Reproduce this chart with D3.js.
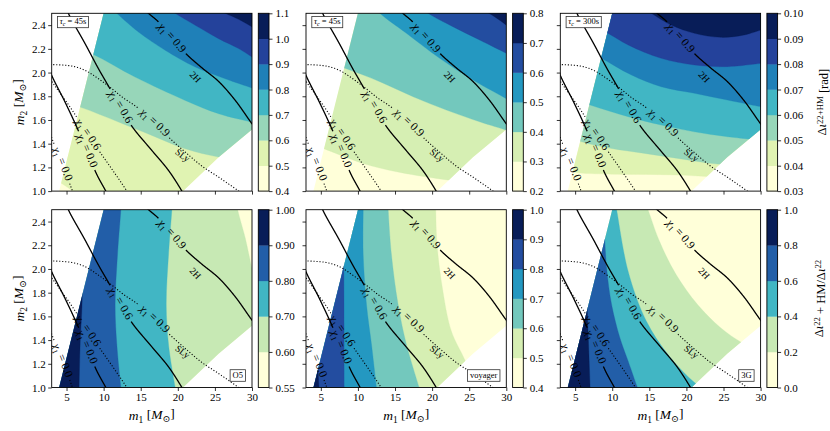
<!DOCTYPE html>
<html><head><meta charset="utf-8">
<script src="https://cdn.jsdelivr.net/npm/d3@7/dist/d3.min.js"></script>
<style>
body{margin:0;background:#fff}
svg{display:block}
text{font-family:"Liberation Serif","DejaVu Serif",serif;fill:#000}
</style>
</head><body>
<svg id="c" width="830" height="431"></svg>
<script>
// ---------------- data ----------------
const xDomain = [3, 30];
const yDomain = [1.0, 2.5];
const xTicks = [5, 10, 15, 20, 25, 30];
const yTicks = [1.0, 1.2, 1.4, 1.6, 1.8, 2.0, 2.2, 2.4];

// valid region (m1, m2)
const wedge = [[4, 1.0], [10, 2.5], [30, 2.5], [30, 1.52], [25.5, 1.285], [20.7, 1.0]];

// EOS / spin curves (m1, m2)
const twoH_chi09 = [[15.6,2.53],[16.05,2.5],[17.4,2.427],[19.2,2.29],[21.23,2.151],[23.25,2.04],[25.5,1.925],[27.75,1.765],[30,1.568],[30.5,1.53]];
const twoH_chi06 = [[5.0,2.55],[5.25,2.5],[7.5,2.244],[9.3,2.033],[10.65,1.886],[12.23,1.709],[13.89,1.54],[16.5,1.343],[18.75,1.174],[20.55,1.0],[20.8,0.97]];
const twoH_chi00 = [[2.8,2.02],[3,1.977],[4.8,1.751],[6.38,1.54],[7.73,1.34],[9.08,1.14],[10.29,1.0],[10.5,0.97]];
const sly_chi09 = [[2.8,2.068],[5.7,2.055],[7.5,2.019],[9.3,1.948],[11.1,1.864],[12.68,1.785],[14.48,1.709],[16.86,1.577],[18.98,1.442],[21.0,1.329],[23.25,1.211],[25.5,1.118],[28.2,1.0],[28.6,0.98]];
const sly_chi06 = [[2.8,1.945],[3,1.926],[4.35,1.808],[5.7,1.689],[7.86,1.476],[9.66,1.315],[11.55,1.146],[13.13,1.0],[13.4,0.97]];
const sly_chi00 = [[2.85,1.48],[3,1.45],[4.4,1.23],[5.8,1.0],[5.95,0.97]];

const curveSets = [
  {pts: twoH_chi09, dotted: false, label: "0.9", at: [19.2, 2.29]},
  {pts: twoH_chi06, dotted: false, label: "0.6", at: [12.23, 1.709]},
  {pts: twoH_chi00, dotted: false, label: "0.0", at: [7.73, 1.34]},
  {pts: sly_chi09, dotted: true, label: "0.9", at: [16.86, 1.577]},
  {pts: sly_chi06, dotted: true, label: "0.6", at: [7.86, 1.476]},
  {pts: sly_chi00, dotted: true, label: "0.0", at: [4.45, 1.23]}
];
const eosNames = ["2H", "SLy"];
const eosAt = [[22.35, 1.962], [20.64, 1.301]];

// panel 1: tau_c = 45 s, Delta iota (rad)
const p1Levels = [0.4, 0.5, 0.6, 0.7, 0.8, 0.9, 1.0, 1.1];
const p1Bounds = [
  [[3,1.12],[4.2,1.07],[5.8,1.0],[6.5,0.95]],
  [[2.8,1.785],[3,1.78],[6.83,1.709],[12.0,1.583],[16.5,1.47],[21.0,1.357],[25.5,1.287],[30,1.245],[30.5,1.24]],
  [[2.8,2.29],[3,2.286],[8.4,2.159],[14.25,1.962],[21.0,1.765],[25.5,1.653],[30,1.582],[30.5,1.575]],
  [[10.5,2.58],[11.78,2.5],[14.7,2.342],[18.3,2.188],[22.35,2.047],[26.4,1.948],[30,1.87],[30.5,1.86]],
  [[18.5,2.55],[19.65,2.5],[22.35,2.399],[25.5,2.286],[28.2,2.202],[30,2.131],[30.5,2.11]],
  [[25.5,2.53],[26.4,2.5],[28.2,2.449],[30,2.385],[30.5,2.365]]
];
// panel 2: tau_c = 45 s
const p2Levels = [0.2, 0.3, 0.4, 0.5, 0.6, 0.7, 0.8];
const p2Bounds = [
  [[2.8,1.42],[3,1.416],[5.33,1.36],[10.71,1.233],[15.2,1.163],[20.58,1.107],[24.17,1.079],[30,1.05]],
  [[2.8,2.138],[3,2.134],[8.25,2.036],[12.96,1.923],[17.44,1.796],[21.92,1.684],[26.4,1.585],[30,1.515],[30.5,1.505]],
  [[11.5,2.6],[12.96,2.5],[16.54,2.331],[21.03,2.12],[25.5,1.937],[30,1.78],[30.5,1.76]],
  [[18.5,2.55],[19.46,2.5],[22.8,2.387],[26.4,2.275],[30,2.162],[30.5,2.145]],
  [[26.8,2.53],[27.66,2.5],[28.8,2.455],[30,2.40],[30.5,2.375]]
];
// panel 3: tau_c = 300 s
const p3Levels = [0.03, 0.04, 0.05, 0.06, 0.07, 0.08, 0.09, 0.10];
const p3Bounds = [
  [[2.8,1.195],[3,1.191],[5.46,1.155],[9.92,1.143],[14.38,1.141],[18.85,1.135],[23.3,1.121],[30,1.1]],
  [[2.8,1.492],[3,1.487],[5.9,1.416],[9.92,1.36],[14.38,1.318],[18.85,1.276],[24.2,1.228],[30,1.205]],
  [[2.8,1.815],[3,1.81],[7.02,1.726],[12.15,1.628],[16.6,1.557],[21.08,1.5],[25.54,1.459],[30,1.43]],
  [[2.8,2.28],[3,2.275],[8.13,2.134],[12.6,1.979],[16.6,1.881],[21.08,1.825],[25.54,1.768],[30,1.712]],
  [[3,2.52],[5.46,2.444],[9.03,2.345],[12.15,2.233],[16.6,2.12],[21.08,2.064],[25.54,2.05],[30,2.078]],
  [[14,2.56],[15.28,2.5],[17.96,2.401],[21.08,2.331],[24.65,2.297],[27.78,2.317],[30,2.359]]
];
// panel 4: O5 ratio
const p4Levels = [0.55, 0.60, 0.70, 0.80, 0.90, 1.00];
const p4Bounds = [
  [[27.8,2.6],[28.07,2.5],[29.1,2.259],[30,2.007],[30.3,1.95]],
  [[19.3,2.6],[19.2,2.5],[18.75,2.119],[18.44,1.698],[18.75,1.362],[19.65,1.0],[19.8,0.95]],
  [[12.4,2.6],[12.32,2.5],[11.87,2.119],[11.55,1.698],[11.78,1.362],[12.32,1.0],[12.4,0.95]],
  [[7.2,2.6],[7.19,2.5],[7.1,1.727],[6.83,1.362],[6.69,1.0],[6.65,0.95]]
];
// panel 5: voyager ratio
const p5Levels = [0.4, 0.5, 0.6, 0.7, 0.8, 0.9, 1.0];
const p5Bounds = [
  [[20.45,2.6],[20.49,2.5],[20.67,2.203],[21.39,1.838],[22.6,1.474],[24.39,1.236],[25.96,1.0],[26.3,0.95]],
  [[14.0,2.6],[14.08,2.5],[14.52,2.119],[15.42,1.698],[16.54,1.362],[18.25,1.0],[18.5,0.95]],
  [[10.71,2.6],[10.71,2.5],[10.71,2.119],[11.16,1.698],[11.83,1.362],[12.5,1.0],[12.6,0.95]],
  [[7.95,2.6],[8.0,2.5],[8.1,2.0],[8.13,1.5],[8.16,1.0],[8.17,0.95]],
  [[4.4,1.5],[4.62,1.15],[4.75,1.0],[4.8,0.95]]
];
// panel 6: 3G ratio
const p6Levels = [0.0, 0.2, 0.4, 0.6, 0.8, 1.0];
const p6Bounds = [
  [[14.5,2.56],[14.83,2.5],[16.39,2.231],[18.63,1.951],[21.53,1.698],[24.65,1.502],[27.55,1.376],[30,1.306],[30.5,1.295]],
  [[10.4,2.56],[10.59,2.5],[12.15,1.979],[14.61,1.558],[17.51,1.278],[20.63,1.067],[21.97,1.0],[22.3,0.985]],
  [[8.7,2.6],[8.8,2.5],[9.25,2.007],[9.92,1.698],[11.04,1.418],[12.15,1.222],[13.4,1.0],[13.6,0.97]],
  [[6.25,2.6],[6.3,2.5],[6.5,2.0],[6.66,1.614],[6.85,1.3],[7.02,1.0],[7.05,0.95]]
];

const tauLabels = ["45s", "45s", "300s"];
const detLabels = ["O5", "voyager", "3G"];
const cbFormats = [".1f", ".1f", ".2f", ".2f", ".1f", ".1f"];

const panels = [
  {levels: p1Levels, bounds: p1Bounds, high: "ur"},
  {levels: p2Levels, bounds: p2Bounds, high: "ur"},
  {levels: p3Levels, bounds: p3Bounds, high: "ur"},
  {levels: p4Levels, bounds: p4Bounds, high: "left"},
  {levels: p5Levels, bounds: p5Bounds, high: "left"},
  {levels: p6Levels, bounds: p6Bounds, high: "left"}
];

// colormap (matplotlib YlGnBu, linear between ColorBrewer nodes)
const ylgnbu = ["#ffffd9","#edf8b1","#c7e9b4","#7fcdbb","#41b6c4","#1d91c0","#225ea8","#253494","#081d58"];
const cmap = d3.scaleLinear().domain(d3.range(9).map(i => i / 8)).range(ylgnbu).interpolate(d3.interpolateRgb);

// ---------------- layout ----------------
const svg = d3.select("#c");
const colX = [51.7, 306, 560.3], rowY = [13.3, 209.7];
const PW = 200.3, PH = 177.8, CBGAP = 6.3, CBW = 10.7;
const defs = svg.append("defs");
const SERIF = "Liberation Serif, DejaVu Serif, serif";

function rich(textSel, parts) {
  // parts: [text, italic, 'sub'|'sup'|null]
  let shift = 0;
  parts.forEach(([t, it, pos]) => {
    const target = pos === "sub" ? 0.3 : pos === "sup" ? -0.4 : 0;
    const ts = textSel.append("tspan").text(t);
    if (it) ts.attr("font-style", "italic");
    if (pos) ts.attr("font-size", "70%");
    const dy = target - shift;
    if (dy !== 0) ts.attr("dy", dy.toFixed(3) + "em");
    shift = target;
  });
}

panels.forEach((p, i) => {
  const col = i % 3, row = Math.floor(i / 3);
  const x0 = colX[col], y0 = rowY[row];
  const x = d3.scaleLinear().domain(xDomain).range([x0, x0 + PW]);
  const y = d3.scaleLinear().domain(yDomain).range([y0 + PH, y0]);
  const nb = p.levels.length - 1;
  const color = k => cmap(k / (nb - 1));

  defs.append("clipPath").attr("id", "w" + i).append("path")
    .attr("d", "M" + wedge.map(d => x(d[0]) + "," + y(d[1])).join("L") + "Z");
  defs.append("clipPath").attr("id", "r" + i).append("rect")
    .attr("x", x0).attr("y", y0).attr("width", PW).attr("height", PH);

  const g = svg.append("g");
  g.append("rect").attr("x", x0).attr("y", y0).attr("width", PW).attr("height", PH).attr("fill", "#fff");

  // filled contours
  const gc = g.append("g").attr("clip-path", `url(#r${i})`).append("g").attr("clip-path", `url(#w${i})`);
  gc.append("rect").attr("x", x0).attr("y", y0).attr("width", PW).attr("height", PH).attr("fill", color(0));
  const curve = d3.line().x(d => x(d[0])).y(d => y(d[1])).curve(d3.curveCatmullRom.alpha(0.5));
  p.bounds.forEach((b, k) => {
    const f = b[0], l = b[b.length - 1];
    const close = p.high === "ur"
      ? [[40, l[1]], [40, 4], [f[0], 4]]
      : [[l[0], 0], [-10, 0], [-10, 4], [f[0], 4]];
    const d = curve(b) + close.map(c => "L" + x(c[0]) + "," + y(c[1])).join("") + "Z";
    gc.append("path").attr("d", d).attr("fill", color(k + 1)).attr("stroke", color(k + 1)).attr("stroke-width", 0.3);
  });

  // curves
  const gl = g.append("g").attr("clip-path", `url(#r${i})`);
  curveSets.forEach(cs => {
    const tmp = gl.append("path").attr("d", curve(cs.pts)).attr("fill", "none");
    const node = tmp.node(), L = node.getTotalLength();
    const samples = [];
    for (let s = 0; s <= L; s += 0.5) { const q = node.getPointAtLength(s); samples.push([s, q.x, q.y]); }
    const cx = x(cs.at[0]), cy = y(cs.at[1]);
    let best = samples[0], bd = Infinity;
    samples.forEach(sm => { const dd = (sm[1] - cx) ** 2 + (sm[2] - cy) ** 2; if (dd < bd) { bd = dd; best = sm; } });
    const a = node.getPointAtLength(Math.max(0, best[0] - 4)), b2 = node.getPointAtLength(Math.min(L, best[0] + 4));
    let ang = Math.atan2(b2.y - a.y, b2.x - a.x) * 180 / Math.PI;
    if (ang > 90) ang -= 180; if (ang < -90) ang += 180;
    tmp.remove();
    const t = gl.append("text").attr("font-size", 11.5).attr("text-anchor", "middle").attr("dy", "0.32em")
      .attr("fill", "#1a1a1a")
      .attr("transform", `translate(${best[1]},${best[2]}) rotate(${ang})`);
    rich(t, [["χ", true, null], ["1", false, "sub"], [" = " + cs.label, false, null]]);
    const half = t.node().getComputedTextLength() / 2 + 3;
    const segA = samples.filter(sm => sm[0] < best[0] - half).map(sm => [sm[1], sm[2]]);
    const segB = samples.filter(sm => sm[0] > best[0] + half).map(sm => [sm[1], sm[2]]);
    [segA, segB].forEach(sg => {
      if (sg.length < 2) return;
      gl.append("path").attr("d", d3.line()(sg)).attr("fill", "none").attr("stroke", "#000")
        .attr("stroke-width", cs.dotted ? 1.1 : 1.3)
        .attr("stroke-dasharray", cs.dotted ? "1.1,1.9" : null);
    });
  });
  eosNames.forEach((nm, k) => {
    gl.append("text").attr("font-size", 9.5).attr("text-anchor", "middle").attr("dy", "0.32em")
      .attr("transform", `translate(${x(eosAt[k][0])},${y(eosAt[k][1])}) rotate(${k === 0 ? 47 : 37})`)
      .text(nm);
  });

  // frame
  g.append("rect").attr("x", x0).attr("y", y0).attr("width", PW).attr("height", PH)
    .attr("fill", "none").attr("stroke", "#000").attr("stroke-width", 0.9);

  // axes
  const ax = g.append("g").attr("transform", `translate(0,${y0 + PH})`)
    .call(d3.axisBottom(x).tickValues(xTicks).tickSize(3.5).tickPadding(2.5)
      .tickFormat(row === 1 ? d3.format("d") : () => ""));
  const ay = g.append("g").attr("transform", `translate(${x0},0)`)
    .call(d3.axisLeft(y).tickValues(yTicks).tickSize(3.5).tickPadding(2.5)
      .tickFormat(col === 0 ? d3.format(".1f") : () => ""));
  [ax, ay].forEach(a => {
    a.select(".domain").remove();
    a.selectAll("line").attr("stroke", "#000").attr("stroke-width", 0.8);
    a.selectAll("text").attr("font-family", SERIF).attr("font-size", 11).attr("fill", "#222");
  });

  // info boxes
  if (row === 0) {
    const bt = g.append("text").attr("font-size", 8.5).attr("x", x0 + 8).attr("y", y0 + 11);
    rich(bt, [["τ", true, null], ["c", true, "sub"], [" = " + tauLabels[col], false, null]]);
    const bb = bt.node().getBBox();
    g.append("rect").attr("x", bb.x - 2.2).attr("y", y0 + 3.2).attr("width", bb.width + 4.4).attr("height", 11.2)
      .attr("fill", "#fff").attr("stroke", "#333").attr("stroke-width", 0.8);
    bt.raise();
  } else {
    const bt = g.append("text").attr("font-size", 8.5).attr("text-anchor", "end")
      .attr("x", x0 + PW - 9).attr("y", y0 + PH - 9.2).text(detLabels[col]);
    const bb = bt.node().getBBox();
    g.append("rect").attr("x", bb.x - 2.5).attr("y", y0 + PH - 17.8).attr("width", bb.width + 5).attr("height", 11.6)
      .attr("fill", "#fff").attr("stroke", "#333").attr("stroke-width", 0.8);
    bt.raise();
  }

  // colorbar
  const cx0 = x0 + PW + CBGAP;
  const cy = d3.scaleLinear().domain([0, nb]).range([y0 + PH, y0]);
  const gcb = svg.append("g");
  d3.range(nb).forEach(k => {
    gcb.append("rect").attr("x", cx0).attr("y", cy(k + 1)).attr("width", CBW).attr("height", cy(k) - cy(k + 1) + 0.3)
      .attr("fill", color(k));
  });
  gcb.append("rect").attr("x", cx0).attr("y", y0).attr("width", CBW).attr("height", PH)
    .attr("fill", "none").attr("stroke", "#000").attr("stroke-width", 0.9);
  const fmt = d3.format(cbFormats[i]);
  const acb = gcb.append("g").attr("transform", `translate(${cx0 + CBW},0)`)
    .call(d3.axisRight(cy).tickValues(d3.range(nb + 1)).tickSize(3.5).tickPadding(3)
      .tickFormat(k => fmt(p.levels[k])));
  acb.select(".domain").remove();
  acb.selectAll("line").attr("stroke", "#000").attr("stroke-width", 0.8);
  acb.selectAll("text").attr("font-family", SERIF).attr("font-size", 11).attr("fill", "#222");

  // axis labels
  if (col === 0) {
    const yl = svg.append("text").attr("font-size", 13.5).attr("text-anchor", "middle")
      .attr("transform", `translate(24,${y0 + PH / 2}) rotate(-90)`);
    rich(yl, [["m", true, null], ["2", false, "sub"], [" [", false, null], ["M", true, null], ["⊙", false, "sub"], ["]", false, null]]);
  }
  if (row === 1) {
    const xl = svg.append("text").attr("font-size", 13.5).attr("text-anchor", "middle")
      .attr("x", x0 + PW / 2).attr("y", 420);
    rich(xl, [["m", true, null], ["1", false, "sub"], [" [", false, null], ["M", true, null], ["⊙", false, "sub"], ["]", false, null]]);
  }
});

// colorbar titles
const t1 = svg.append("text").attr("font-size", 12.5).attr("text-anchor", "middle")
  .attr("transform", `translate(826,${rowY[0] + PH / 2}) rotate(-90)`);
rich(t1, [["Δ", false, null], ["ι", true, null], ["22+HM", false, "sup"], [" [rad]", false, null]]);
const t2 = svg.append("text").attr("font-size", 12.5).attr("text-anchor", "middle")
  .attr("transform", `translate(823,${rowY[1] + PH / 2}) rotate(-90)`);
rich(t2, [["Δ", false, null], ["ι", true, null], ["22", false, "sup"], [" + HM/Δ", false, null], ["ι", true, null], ["22", false, "sup"]]);
</script>
</body></html>
